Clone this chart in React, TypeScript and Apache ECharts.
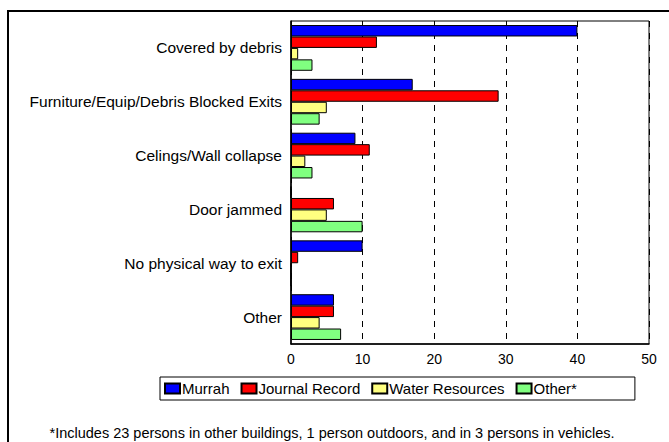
import React, { useEffect, useRef } from "react";
import * as echarts from "echarts";

const categories = [
  "Covered by debris",
  "Furniture/Equip/Debris Blocked Exits",
  "Celings/Wall collapse",
  "Door jammed",
  "No physical way to exit",
  "Other",
];
const murrah = [40, 17, 9, 0, 10, 6];
const journalRecord = [12, 29, 11, 6, 1, 6];
const waterResources = [1, 5, 2, 5, 0, 4];
const otherStar = [3, 4, 3, 10, 0, 7];
const seriesNames = ["Murrah", "Journal Record", "Water Resources", "Other*"];
const seriesColors = ["#0000FF", "#FF0000", "#FFFF80", "#80FF80"];
const footnote =
  "*Includes 23 persons in other buildings, 1 person outdoors, and in 3 persons in vehicles.";

const FONT = "Liberation Sans, Arial, sans-serif";

export default function App() {
  const ref = useRef<HTMLDivElement>(null);
  useEffect(() => {
    if (!ref.current) return;
    const chart = echarts.init(ref.current, null, { renderer: "svg" });
    const dataSets = [murrah, journalRecord, waterResources, otherStar];
    chart.setOption({
      animation: false,
      backgroundColor: "#fff",
      textStyle: { fontFamily: FONT },
      grid: { left: 291, top: 21, width: 358, height: 323, containLabel: false, show: true, borderColor: "#000", borderWidth: 1 },
      xAxis: {
        type: "value",
        min: 0,
        max: 50,
        interval: 10,
        axisLine: { show: true, lineStyle: { color: "#000", width: 1.5 } },
        axisTick: { show: false },
        axisLabel: { color: "#000", fontSize: 14, fontFamily: FONT, margin: 8 },
        splitLine: { show: true, lineStyle: { color: "#000", type: [6, 6], width: 1 } },
      },
      yAxis: {
        type: "category",
        data: categories,
        inverse: true,
        axisLine: { show: true, lineStyle: { color: "#000", width: 1.5 } },
        axisTick: { show: false },
        axisLabel: { color: "#000", fontSize: 15.5, fontFamily: FONT, margin: 9 },
      },
      legend: {
        left: 160,
        top: 377,
        itemWidth: 15,
        itemHeight: 10,
        itemGap: 11,
        padding: [4, 58, 4, 4],
        borderColor: "#000",
        borderWidth: 1,
        icon: "rect",
        textStyle: { color: "#000", fontSize: 15, fontFamily: FONT, padding: [0, 0, 0, -3] },
        data: seriesNames,
      },
      graphic: [
        {
          type: "rect",
          shape: { x: 8, y: 11, width: 700, height: 500 },
          style: { fill: "none", stroke: "#000", lineWidth: 2 },
          silent: true,
        },
        {
          type: "text",
          x: 332,
          y: 433,
          style: {
            text: footnote,
            fill: "#000",
            font: "14.5px " + FONT,
            textAlign: "center",
            textVerticalAlign: "middle",
          },
        },
      ],
      series: seriesNames.map((name, i) => ({
        name,
        type: "bar",
        data: dataSets[i],
        barGap: "0%",
        barCategoryGap: "15%",
        itemStyle: { color: seriesColors[i], borderColor: "#000", borderWidth: 1 },
      })),
    });
    return () => chart.dispose();
  }, []);
  return (
    <div
      ref={ref}
      style={{ position: "absolute", left: 0, top: 0, width: 669, height: 442 }}
    />
  );
}
